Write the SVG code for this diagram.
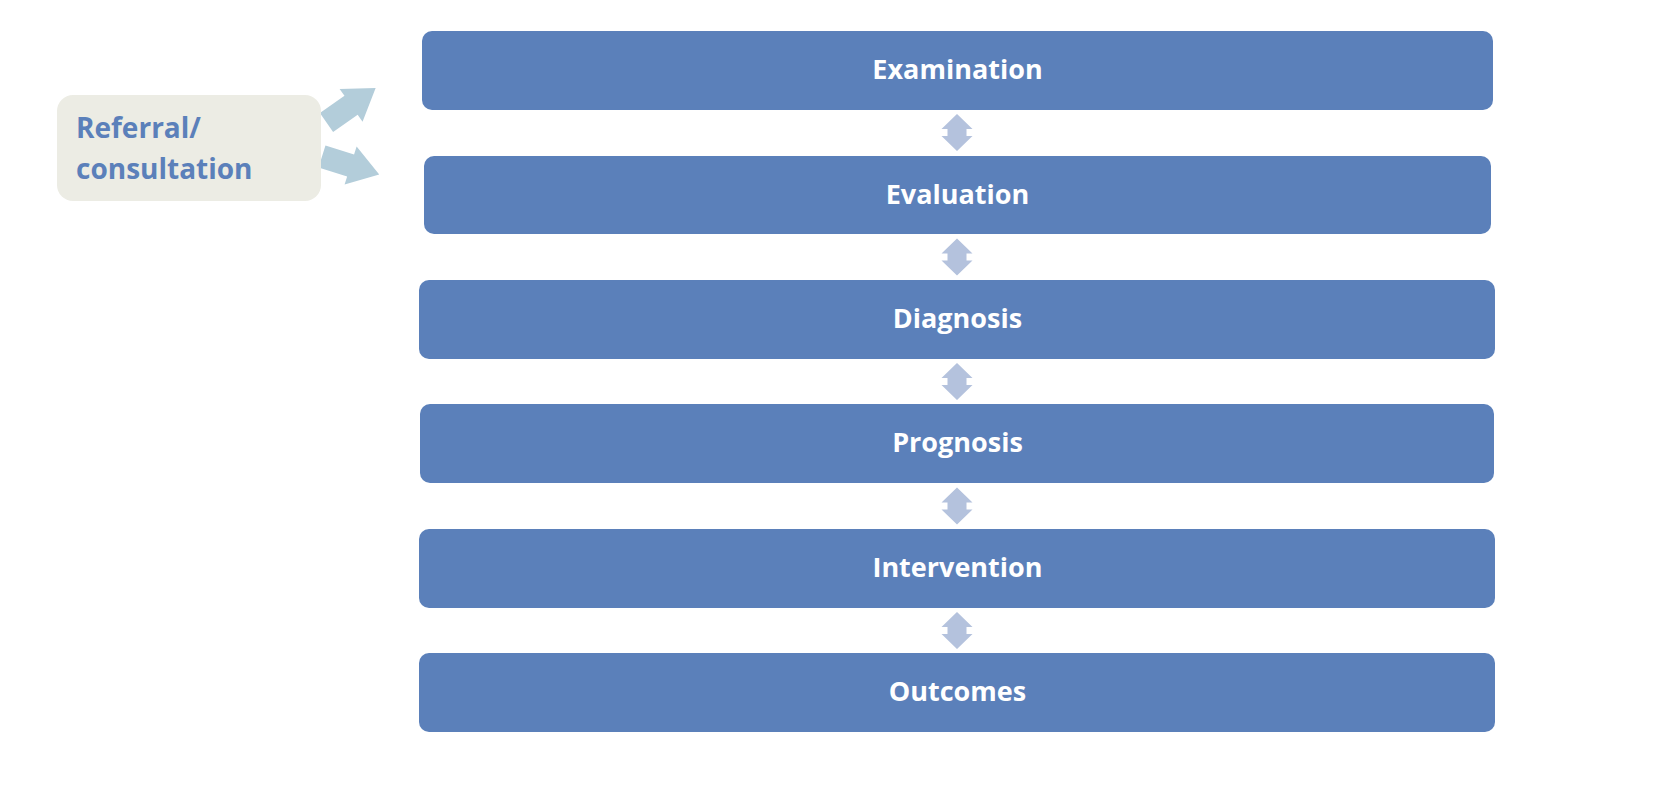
<svg xmlns="http://www.w3.org/2000/svg" width="1654" height="796" viewBox="0 0 1654 796">
<style>
.box{fill:#5B80BA;}
.lbl{font-family:"Open Sans","Liberation Sans",sans-serif;font-weight:bold;font-size:27px;fill:#FFFFFF;text-anchor:middle;}
.ref{fill:#ECECE4;}
.reft{font-family:"Open Sans","Liberation Sans",sans-serif;font-weight:bold;font-size:28px;fill:#5B80BA;}
.blk{fill:#B3CDDA;}
.dbl{fill:#B4C2DD;}
</style>
<defs>
<path id="dblArrow" d="M0,0 L15.5,15 L9.5,15 L9.5,22 L15.5,22 L0,37 L-15.5,22 L-9.5,22 L-9.5,15 L-15.5,15 Z"/>
<path id="blkArrow" d="M0,-11.5 L30,-11.5 L30,-20 L60,0 L30,20 L30,11.5 L0,11.5 Z"/>
</defs>
<rect width="1654" height="796" fill="#FFFFFF"/>
<g id="connectors">
<use href="#blkArrow" class="blk" transform="translate(326.5,122.5) rotate(-35)"/>
<use href="#blkArrow" class="blk" transform="translate(322,156.5) rotate(17.5)"/>
<use href="#dblArrow" class="dbl" transform="translate(957,114)"/>
<use href="#dblArrow" class="dbl" transform="translate(957,238.5)"/>
<use href="#dblArrow" class="dbl" transform="translate(957,363)"/>
<use href="#dblArrow" class="dbl" transform="translate(957,487.5)"/>
<use href="#dblArrow" class="dbl" transform="translate(957,612)"/>
</g>
<g id="referral">
<rect class="ref" x="57" y="95" width="264" height="106" rx="16"/>
<text class="reft" x="76" y="138">Referral/</text>
<text class="reft" x="76" y="179">consultation</text>
</g>
<g id="examination">
<rect class="box" x="422" y="31" width="1071" height="79" rx="10"/>
<text class="lbl" x="957.5" y="79">Examination</text>
</g>
<g id="evaluation">
<rect class="box" x="424" y="156" width="1067" height="78" rx="10"/>
<text class="lbl" x="957.5" y="203.5">Evaluation</text>
</g>
<g id="diagnosis">
<rect class="box" x="419" y="280" width="1076" height="79" rx="10"/>
<text class="lbl" x="957.5" y="328">Diagnosis</text>
</g>
<g id="prognosis">
<rect class="box" x="420" y="404" width="1074" height="79" rx="10"/>
<text class="lbl" x="957.5" y="452">Prognosis</text>
</g>
<g id="intervention">
<rect class="box" x="419" y="529" width="1076" height="79" rx="10"/>
<text class="lbl" x="957.5" y="577">Intervention</text>
</g>
<g id="outcomes">
<rect class="box" x="419" y="653" width="1076" height="79" rx="10"/>
<text class="lbl" x="957.5" y="701">Outcomes</text>
</g>
</svg>
